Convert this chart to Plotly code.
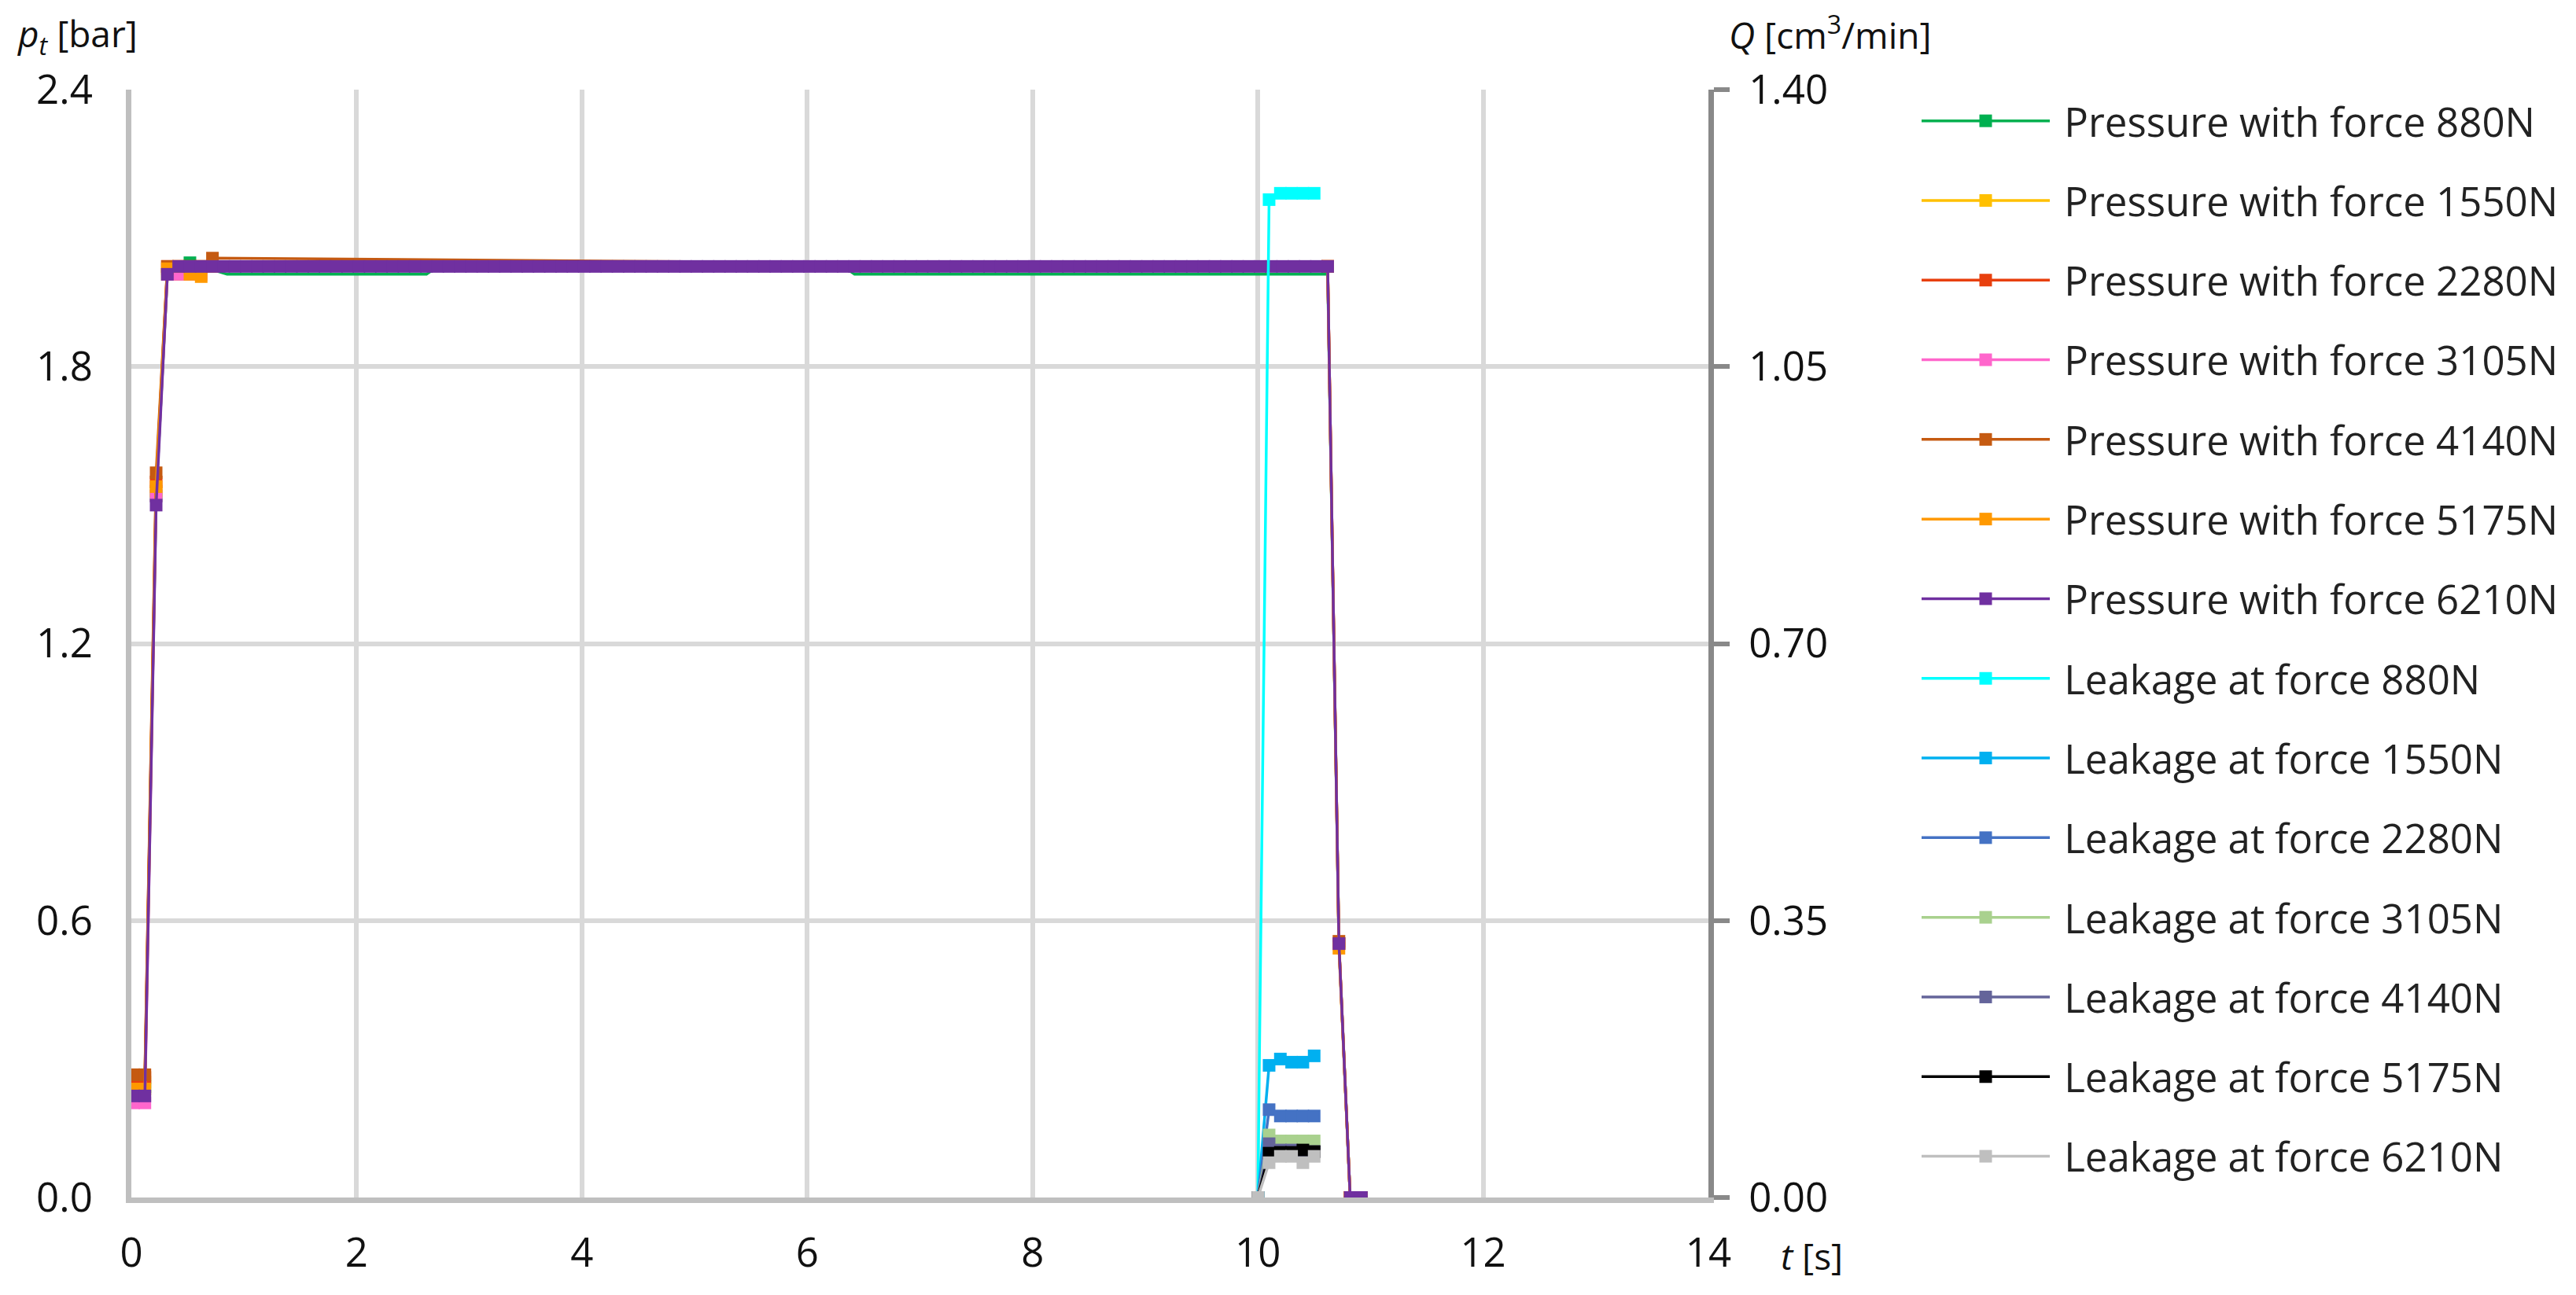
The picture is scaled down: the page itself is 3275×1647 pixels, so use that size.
import plotly.graph_objects as go

# ---------------- data ----------------
# time grid of the 6210 N pressure record (s)
t_p6210 = [
    0.02, 0.12, 0.22, 0.32, 0.42, 0.52, 0.62, 0.72, 0.82, 0.92,
    1.02, 1.12, 1.22, 1.32, 1.42, 1.52, 1.62, 1.72, 1.82, 1.92,
    2.02, 2.12, 2.22, 2.32, 2.42, 2.52, 2.62, 2.72, 2.82, 2.92,
    3.02, 3.12, 3.22, 3.32, 3.42, 3.52, 3.62, 3.72, 3.82, 3.92,
    4.02, 4.12, 4.22, 4.32, 4.42, 4.52, 4.62, 4.72, 4.82, 4.92,
    5.02, 5.12, 5.22, 5.32, 5.42, 5.52, 5.62, 5.72, 5.82, 5.92,
    6.02, 6.12, 6.22, 6.32, 6.42, 6.52, 6.62, 6.72, 6.82, 6.92,
    7.02, 7.12, 7.22, 7.32, 7.42, 7.52, 7.62, 7.72, 7.82, 7.92,
    8.02, 8.12, 8.22, 8.32, 8.42, 8.52, 8.62, 8.72, 8.82, 8.92,
    9.02, 9.12, 9.22, 9.32, 9.42, 9.52, 9.62, 9.72, 9.82, 9.92,
    10.02, 10.12, 10.22, 10.32, 10.42, 10.52, 10.62, 10.72, 10.82, 10.92,
]
p_6210 = [
    0.22, 0.22, 1.50, 2.00, 2.017, 2.017, 2.017, 2.017, 2.017, 2.017,
    2.017, 2.017, 2.017, 2.017, 2.017, 2.017, 2.017, 2.017, 2.017, 2.017,
    2.017, 2.017, 2.017, 2.017, 2.017, 2.017, 2.017, 2.017, 2.017, 2.017,
    2.017, 2.017, 2.017, 2.017, 2.017, 2.017, 2.017, 2.017, 2.017, 2.017,
    2.017, 2.017, 2.017, 2.017, 2.017, 2.017, 2.017, 2.017, 2.017, 2.017,
    2.017, 2.017, 2.017, 2.017, 2.017, 2.017, 2.017, 2.017, 2.017, 2.017,
    2.017, 2.017, 2.017, 2.017, 2.017, 2.017, 2.017, 2.017, 2.017, 2.017,
    2.017, 2.017, 2.017, 2.017, 2.017, 2.017, 2.017, 2.017, 2.017, 2.017,
    2.017, 2.017, 2.017, 2.017, 2.017, 2.017, 2.017, 2.017, 2.017, 2.017,
    2.017, 2.017, 2.017, 2.017, 2.017, 2.017, 2.017, 2.017, 2.017, 2.017,
    2.017, 2.017, 2.017, 2.017, 2.017, 2.017, 2.017, 0.55, 0.00, 0.00,
]

# 880 N pressure record
t_p880 = [0.02, 0.12, 0.22, 0.32, 0.42, 0.52, 0.85, 2.62, 2.72, 6.32, 6.42, 10.62, 10.72, 10.82, 10.92]
p_880 = [0.24, 0.24, 1.52, 2.00, 2.00, 2.025, 2.00, 2.00, 2.017, 2.017, 2.00, 2.00, 0.55, 0.00, 0.00]

# other pressure records (common time grid)
t_pother = [0.02, 0.12, 0.22, 0.32, 0.42, 0.52, 0.62, 0.72, 10.62, 10.72, 10.82, 10.92]
p_1550 = [0.25, 0.25, 1.53, 2.00, 2.00, 2.00, 2.017, 2.017, 2.017, 0.55, 0.00, 0.00]
p_2280 = [0.26, 0.26, 1.55, 2.017, 2.017, 2.017, 2.017, 2.017, 2.017, 0.55, 0.00, 0.00]
p_3105 = [0.205, 0.205, 1.52, 2.00, 2.00, 2.00, 2.00, 2.017, 2.017, 0.55, 0.00, 0.00]
p_4140 = [0.266, 0.266, 1.57, 2.017, 2.017, 2.017, 2.017, 2.035, 2.017, 0.555, 0.00, 0.00]
p_5175 = [0.235, 0.235, 1.54, 2.012, 2.017, 2.00, 1.995, 2.017, 2.017, 0.54, 0.00, 0.00]

# leakage records (cm3/min)
t_leak = [10.0, 10.1, 10.2, 10.3, 10.4, 10.5]
q_880 = [0.0, 1.261, 1.269, 1.269, 1.269, 1.269]
q_1550 = [0.0, 0.167, 0.175, 0.171, 0.171, 0.179]
q_2280 = [0.0, 0.111, 0.103, 0.103, 0.103, 0.103]
q_3105 = [0.0, 0.079, 0.0715, 0.0715, 0.0715, 0.0715]
q_4140 = [0.0, 0.068, 0.060, 0.060, 0.058, 0.058]
q_5175 = [0.0, 0.056, 0.057, 0.057, 0.060, 0.058]
q_6210 = [0.0, 0.044, 0.052, 0.052, 0.044, 0.052]

x_ticks = [0, 2, 4, 6, 8, 10, 12, 14]
y_ticks = [0.0, 0.6, 1.2, 1.8, 2.4]
y2_ticks = [0.0, 0.35, 0.70, 1.05, 1.40]

# ---------------- figure ----------------
FONT = "Open Sans"
FS_TICK = 51
FS_LEG = 51
FS_TITLE = 46
MS = 16
LW = 3.5
TXT = "#111111"

fig = go.Figure()

pressure = [
    ("Pressure with force 880N", t_p880, p_880, "#00B050"),
    ("Pressure with force 1550N", t_pother, p_1550, "#FFC000"),
    ("Pressure with force 2280N", t_pother, p_2280, "#E8400E"),
    ("Pressure with force 3105N", t_pother, p_3105, "#FF66CC"),
    ("Pressure with force 4140N", t_pother, p_4140, "#C55A11"),
    ("Pressure with force 5175N", t_pother, p_5175, "#FF9900"),
    ("Pressure with force 6210N", t_p6210, p_6210, "#7030A0"),
]
leak = [
    ("Leakage at force 880N", q_880, "#00FFFF"),
    ("Leakage at force 1550N", q_1550, "#00B0F0"),
    ("Leakage at force 2280N", q_2280, "#4472C4"),
    ("Leakage at force 3105N", q_3105, "#A9D18E"),
    ("Leakage at force 4140N", q_4140, "#64649A"),
    ("Leakage at force 5175N", q_5175, "#000000"),
    ("Leakage at force 6210N", q_6210, "#BFBFBF"),
]

PAD = "\u00a0"  # small gap between legend sample and its text

for i, (name, tt, pp, col) in enumerate(pressure):
    if i == 0:
        # the 880 N record shows no markers along its plateau
        mcol = ["rgba(0,0,0,0)" if 0.6 < t < 10.7 else col for t in tt]
    else:
        mcol = col
    fig.add_trace(go.Scatter(
        x=tt, y=pp, name=PAD + name, mode="lines+markers",
        line=dict(color=col, width=LW),
        marker=dict(symbol="square", size=MS, color=mcol, line=dict(width=0)),
        legendgroup=name, yaxis="y",
    ))

for name, qq, col in leak:
    fig.add_trace(go.Scatter(
        x=t_leak, y=qq, name=PAD + name, mode="lines+markers",
        line=dict(color=col, width=LW),
        marker=dict(symbol="square", size=MS, color=col, line=dict(width=0)),
        legendgroup=name, yaxis="y2",
    ))

# page has an 8 px body margin: build the figure 8 px smaller and shifted
OFF = 8
W, H = 3275 - OFF, 1647 - OFF
PL, PR, PT, PB = 167, 2172, 114, 1523      # plot area in page pixels
L, T = PL - OFF, PT - OFF
R = W - (PR - OFF)
B = H - (PB - OFF)
pw = PR - PL
ph = PB - PT


def px(xpage):
    return (xpage - PL) / pw


def py(ypage):
    return (PB - ypage) / ph


fig.update_layout(
    width=W, height=H,
    margin=dict(l=L, r=R, t=T, b=B, pad=0),
    paper_bgcolor="white", plot_bgcolor="white",
    font=dict(family=FONT, size=FS_TICK, color=TXT),
    showlegend=True,
    legend=dict(
        x=px(2438), xanchor="left",
        y=1, yanchor="top",
        font=dict(family=FONT, size=FS_LEG, color="#222222"),
        tracegroupgap=32, itemwidth=163,
        bgcolor="rgba(0,0,0,0)",
    ),
    xaxis=dict(
        range=[0, 14], tickvals=x_ticks, ticktext=[str(v) for v in x_ticks],
        showgrid=True, gridcolor="#D9D9D9", gridwidth=6,
        showline=True, linecolor="#BFBFBF", linewidth=7,
        zeroline=False, ticks="", ticklabelstandoff=20,
        tickfont=dict(family=FONT, size=FS_TICK, color=TXT),
    ),
    yaxis=dict(
        range=[0, 2.4], tickvals=y_ticks, ticktext=[f"{v:.1f}" for v in y_ticks],
        showgrid=True, gridcolor="#D9D9D9", gridwidth=6,
        showline=True, linecolor="#BFBFBF", linewidth=7,
        zeroline=False, ticks="", ticklabelstandoff=32,
        tickfont=dict(family=FONT, size=FS_TICK, color=TXT),
    ),
    yaxis2=dict(
        range=[0, 1.4], tickvals=y2_ticks, ticktext=[f"{v:.2f}" for v in y2_ticks],
        overlaying="y", side="right", showgrid=False, zeroline=False,
        showline=True, linecolor="#898989", linewidth=7,
        ticks="outside", ticklen=20, tickwidth=6, tickcolor="#898989",
        ticklabelstandoff=14,
        tickfont=dict(family=FONT, size=FS_TICK, color=TXT),
    ),
)

fig.add_annotation(
    text="<i>p</i><sub><i>t</i></sub> [bar]", xref="paper", yref="paper",
    x=px(20), y=py(9), xanchor="left", yanchor="top",
    showarrow=False, font=dict(family=FONT, size=FS_TITLE, color=TXT),
)
fig.add_annotation(
    text="<i>Q</i> [cm<sup>3</sup>/min]", xref="paper", yref="paper",
    x=px(2196), y=py(42), xanchor="left", yanchor="middle",
    showarrow=False, font=dict(family=FONT, size=FS_TITLE, color=TXT),
)
fig.add_annotation(
    text="<i>t</i> [s]", xref="paper", yref="paper",
    x=px(2262), y=py(1597), xanchor="left", yanchor="middle",
    showarrow=False, font=dict(family=FONT, size=FS_TITLE, color=TXT),
)

fig.write_html("out.html")
